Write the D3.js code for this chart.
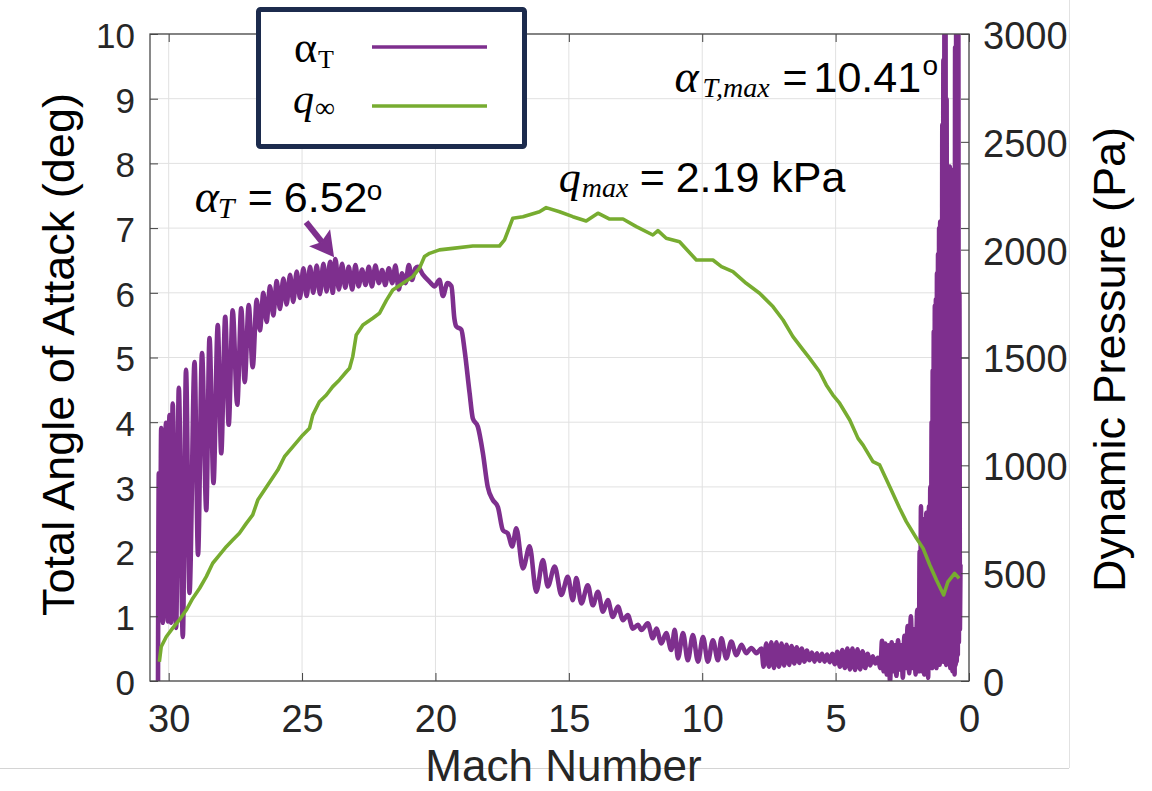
<!DOCTYPE html>
<html lang="en">
<head>
<meta charset="UTF-8">
<title>Total Angle of Attack and Dynamic Pressure vs Mach</title>
<script src="https://d3js.org/d3.v7.min.js"></script>
<style>
    body { margin: 0; background: #fff; }
    svg { display: block; }
    .tick text { fill: #262626; font-family: "Liberation Sans", Arial, Helvetica, sans-serif; }
    .tick line { stroke: #404040; }
    .domain { display: none; }
    .serif { font-family: "Liberation Serif", "Times New Roman", serif; }
    .sans { font-family: "Liberation Sans", Arial, Helvetica, sans-serif; }
</style>
</head>
<body>
<div id="chart"></div>
<script>
// Total angle of attack (deg) vs Mach
const machA = [
    30.40, 30.37, 30.33, 30.28, 30.22, 30.10, 30.03, 29.97, 29.91, 29.85,
    29.72, 29.62, 29.47, 29.35, 29.22, 29.03, 28.90, 28.75, 28.59, 28.47,
    28.32, 28.16, 28.03, 27.88, 27.75, 27.60, 27.43, 27.28, 27.15, 27.00,
    26.85, 26.70, 26.58, 26.45, 26.33, 26.20, 26.08, 25.95, 25.83, 25.70,
    25.58, 25.45, 25.33, 25.20, 25.08, 24.95, 24.83, 24.70, 24.58, 24.45,
    24.33, 24.20, 24.08, 23.95, 23.85, 23.75, 23.62, 23.50, 23.38, 23.25,
    23.12, 23.00, 22.88, 22.75, 22.62, 22.50, 22.38, 22.25, 22.12, 22.00,
    21.88, 21.75, 21.62, 21.50, 21.38, 21.25, 21.12, 21.00, 20.88, 20.75,
    20.66, 20.47, 20.22, 20.03, 19.85, 19.72, 19.55, 19.40, 19.29, 19.22,
    19.03, 18.91, 18.72, 18.60, 18.41, 18.22, 18.04, 17.85, 17.66, 17.47,
    17.29, 17.12, 16.97, 16.72, 16.47, 16.22, 15.97, 15.79, 15.53, 15.28,
    15.04, 14.85, 14.72, 14.53, 14.29, 14.10, 13.91, 13.72, 13.54, 13.35,
    13.16, 12.97, 12.79, 12.60, 12.41, 12.28, 12.04, 11.85, 11.72, 11.53,
    11.35, 11.16, 11.03, 10.91, 10.72, 10.54, 10.35, 10.16, 9.97, 9.79,
    9.60, 9.41, 9.28, 9.10, 8.91, 8.72, 8.53, 8.35, 8.16, 7.97,
    7.78, 7.70, 7.60, 7.50, 7.41, 7.31, 7.22, 7.12, 7.03, 6.93,
    6.84, 6.74, 6.65, 6.55, 6.46, 6.36, 6.27, 6.17, 6.08, 5.98,
    5.89, 5.79, 5.70, 5.60, 5.51, 5.41, 5.32, 5.22, 5.13, 5.03,
    4.94, 4.84, 4.75, 4.65, 4.56, 4.46, 4.37, 4.27, 4.18, 4.08,
    3.99, 3.89, 3.80, 3.70, 3.61, 3.51, 3.42, 3.32, 3.26, 3.20,
    3.14, 3.08, 3.02, 2.96, 2.90, 2.84, 2.78, 2.72, 2.66, 2.60,
    2.54, 2.48, 2.42, 2.36, 2.30, 2.24, 2.18, 2.12, 2.06, 2.00,
    1.94, 1.88, 1.85, 1.83, 1.80, 1.78, 1.75, 1.73, 1.70, 1.68,
    1.65, 1.63, 1.60, 1.58, 1.55, 1.53, 1.50, 1.48, 1.45, 1.43,
    1.40, 1.38, 1.36, 1.34, 1.32, 1.30, 1.28, 1.26, 1.24, 1.22,
    1.20, 1.18, 1.16, 1.14, 1.12, 1.10, 1.08, 1.06, 1.04, 1.02,
    1.00, 0.98, 0.96, 0.94, 0.92, 0.90, 0.88, 0.86, 0.84, 0.82,
    0.80, 0.78, 0.76, 0.74, 0.72, 0.70, 0.68, 0.66, 0.64, 0.62,
    0.60, 0.58, 0.56, 0.54, 0.52, 0.50, 0.48, 0.46, 0.44, 0.42,
    0.40, 0.38, 0.36, 0.34, 0.32
];
const alphaT = [
    0.00, 3.21, 0.95, 3.91, 0.90, 3.99, 0.92, 4.11, 0.90, 4.29,
    0.82, 4.53, 0.68, 4.81, 1.36, 4.93, 1.95, 5.07, 2.64, 5.30,
    3.06, 5.50, 3.52, 5.63, 3.96, 5.73, 4.27, 5.76, 4.62, 5.81,
    4.85, 5.89, 5.42, 6.00, 5.55, 6.10, 5.65, 6.18, 5.75, 6.22,
    5.82, 6.28, 5.86, 6.33, 5.92, 6.38, 5.95, 6.40, 6.00, 6.42,
    5.98, 6.45, 6.02, 6.48, 6.00, 6.52, 6.05, 6.45, 6.08, 6.40,
    6.05, 6.43, 6.10, 6.36, 6.12, 6.40, 6.10, 6.42, 6.15, 6.35,
    6.12, 6.38, 6.15, 6.42, 6.05, 6.30, 6.15, 6.43, 6.20, 6.38,
    6.40, 6.28, 6.17, 6.10, 6.20, 5.95, 6.15, 6.10, 5.60, 5.48,
    5.43, 5.12, 4.45, 4.06, 3.93, 3.52, 3.00, 2.80, 2.69, 2.33,
    2.28, 2.08, 2.36, 1.74, 2.08, 1.38, 1.87, 1.46, 1.77, 1.33,
    1.61, 1.25, 1.59, 1.20, 1.48, 1.17, 1.38, 1.07, 1.25, 0.99,
    1.15, 0.94, 1.02, 0.81, 0.87, 0.79, 0.89, 0.66, 0.81, 0.58,
    0.74, 0.48, 0.79, 0.35, 0.74, 0.32, 0.71, 0.30, 0.68, 0.30,
    0.63, 0.32, 0.66, 0.35, 0.61, 0.40, 0.56, 0.43, 0.51, 0.43,
    0.50, 0.22, 0.58, 0.22, 0.60, 0.20, 0.60, 0.22, 0.58, 0.24,
    0.56, 0.25, 0.54, 0.27, 0.52, 0.28, 0.50, 0.30, 0.47, 0.32,
    0.44, 0.30, 0.43, 0.31, 0.42, 0.30, 0.41, 0.29, 0.42, 0.26,
    0.45, 0.22, 0.48, 0.20, 0.50, 0.18, 0.50, 0.17, 0.49, 0.18,
    0.46, 0.20, 0.42, 0.24, 0.38, 0.27, 0.36, 0.20, 0.62, 0.15,
    0.58, 0.10, 0.55, 0.00, 0.60, 0.15, 0.55, 0.08, 0.63, 0.18,
    0.55, 0.05, 0.70, 0.20, 0.85, 0.12, 1.00, 0.20, 0.80, 0.10,
    1.10, 0.15, 2.00, 0.20, 2.70, 0.15, 2.20, 0.25, 2.50, 0.10,
    2.40, 0.30, 2.60, 0.20, 2.30, 0.05, 2.70, 0.30, 3.00, 0.25,
    4.00, 0.20, 4.80, 0.30, 5.40, 0.25, 5.80, 0.30, 5.90, 0.20,
    6.30, 0.35, 6.60, 0.30, 7.00, 0.25, 7.10, 0.30, 7.00, 0.40,
    8.60, 0.30, 9.60, 0.50, 10.41, 2.50, 10.20, 0.25, 9.00, 0.40,
    7.90, 0.30, 7.90, 0.35, 7.95, 0.20, 7.60, 0.30, 7.90, 0.15,
    7.50, 0.20, 7.00, 0.10, 9.80, 0.25, 10.40, 0.30, 10.30, 0.40,
    10.20, 0.60, 6.00, 0.80, 1.80
];

// Dynamic pressure (Pa) vs Mach
const machQ = [
    30.35, 30.28, 30.09, 29.85, 29.60, 29.34, 29.10, 28.84, 28.59, 28.35,
    28.10, 27.84, 27.60, 27.35, 27.09, 26.85, 26.66, 26.41, 26.16, 25.91,
    25.66, 25.35, 24.97, 24.72, 24.60, 24.35, 24.09, 23.85, 23.60, 23.34,
    23.22, 23.10, 22.97, 22.72, 22.35, 22.10, 21.84, 21.60, 21.22, 20.85,
    20.60, 20.41, 20.22, 19.85, 19.35, 18.60, 17.60, 17.41, 17.22, 17.10,
    16.72, 16.10, 15.85, 15.35, 14.85, 14.35, 13.91, 13.47, 12.97, 12.47,
    11.85, 11.66, 11.35, 10.85, 10.22, 9.60, 9.28, 8.85, 8.35, 7.85,
    7.35, 6.97, 6.60, 6.22, 5.97, 5.60, 5.35, 5.10, 4.85, 4.47,
    4.16, 3.97, 3.60, 3.35, 2.97, 2.60, 2.35, 1.97, 1.72, 1.47,
    1.22, 0.95, 0.79, 0.54, 0.37
];
const qInf = [
    89, 159, 205, 245, 283, 329, 383, 430, 484, 546,
    584, 623, 654, 685, 731, 770, 839, 886, 932, 978,
    1040, 1086, 1141, 1172, 1233, 1295, 1326, 1365, 1396, 1434,
    1450, 1504, 1604, 1651, 1682, 1705, 1765, 1813, 1844, 1875,
    1914, 1968, 1983, 1999, 2006, 2017, 2017, 2045, 2107, 2146,
    2153, 2176, 2195, 2176, 2153, 2133, 2169, 2142, 2142, 2107,
    2068, 2088, 2053, 2037, 1952, 1952, 1921, 1898, 1844, 1798,
    1736, 1674, 1597, 1535, 1496, 1434, 1373, 1326, 1288, 1210,
    1125, 1094, 1017, 1002, 901, 801, 739, 662, 615, 538,
    468, 399, 460, 499, 476
];

const xTicks = [30, 25, 20, 15, 10, 5, 0];
const yLeftTicks = [0, 1, 2, 3, 4, 5, 6, 7, 8, 9, 10];
const yRightTicks = [0, 500, 1000, 1500, 2000, 2500, 3000];

const purple = '#7e2f8e';
const green = '#77ac30';

const width = 1152;
const height = 791;
const margin = { left: 150, right: 183, top: 34, bottom: 110 };
const plotW = width - margin.left - margin.right;
const plotH = height - margin.top - margin.bottom;

const x = d3.scaleLinear().domain([30.7, 0]).range([margin.left, margin.left + plotW]);
const yL = d3.scaleLinear().domain([0, 10]).range([margin.top + plotH, margin.top]);
const yR = d3.scaleLinear().domain([0, 3000]).range([margin.top + plotH, margin.top]);

const svg = d3.select('#chart').append('svg')
    .attr('width', width)
    .attr('height', height);

// faint frame lines left over from the figure export
svg.append('line')
    .attr('x1', 0).attr('x2', 1069).attr('y1', 768.5).attr('y2', 768.5)
    .attr('stroke', '#d4d4d4').attr('stroke-width', 1);
svg.append('line')
    .attr('x1', 1069.5).attr('x2', 1069.5).attr('y1', 0).attr('y2', 768)
    .attr('stroke', '#e2e2e2').attr('stroke-width', 1);

svg.append('defs').append('clipPath').attr('id', 'plot-clip')
    .append('rect')
    .attr('x', margin.left).attr('y', margin.top)
    .attr('width', plotW).attr('height', plotH);

// Grid
const grid = svg.append('g').attr('stroke', '#e1e1e1').attr('stroke-width', 1);
grid.selectAll('.gx').data(xTicks).join('line')
    .attr('x1', d => x(d)).attr('x2', d => x(d))
    .attr('y1', margin.top).attr('y2', margin.top + plotH);
grid.selectAll('.gy').data(yLeftTicks).join('line')
    .attr('x1', margin.left).attr('x2', margin.left + plotW)
    .attr('y1', d => yL(d)).attr('y2', d => yL(d));

// Series
const plot = svg.append('g').attr('clip-path', 'url(#plot-clip)');

const alphaLine = d3.line()
    .x((d, i) => x(machA[i]))
    .y(d => yL(d))
    .curve(d3.curveMonotoneX);
plot.append('path')
    .attr('d', alphaLine(alphaT))
    .attr('fill', 'none')
    .attr('stroke', purple)
    .attr('stroke-width', 4.6)
    .attr('stroke-linejoin', 'round');

const qLine = d3.line()
    .x((d, i) => x(machQ[i]))
    .y(d => yR(d));
plot.append('path')
    .attr('d', qLine(qInf))
    .attr('fill', 'none')
    .attr('stroke', green)
    .attr('stroke-width', 3.6)
    .attr('stroke-linejoin', 'round');

// Axes (ticks point inward, like the original)
svg.append('g')
    .attr('transform', `translate(0,${margin.top + plotH})`)
    .call(d3.axisBottom(x).tickValues(xTicks).tickSizeInner(-8).tickSizeOuter(0).tickPadding(24))
    .call(g => g.selectAll('text').attr('font-size', 38));
svg.append('g')
    .attr('transform', `translate(0,${margin.top})`)
    .call(d3.axisTop(x).tickValues(xTicks).tickSizeInner(-8).tickSizeOuter(0).tickFormat(''));
svg.append('g')
    .attr('transform', `translate(${margin.left},0)`)
    .call(d3.axisLeft(yL).tickValues(yLeftTicks).tickSizeInner(-8).tickSizeOuter(0).tickPadding(15))
    .call(g => g.selectAll('text').attr('font-size', 35).attr('dy', '0.38em'));
svg.append('g')
    .attr('transform', `translate(${margin.left + plotW},0)`)
    .call(d3.axisRight(yL).tickValues(yLeftTicks).tickSizeInner(-8).tickSizeOuter(0).tickFormat(''));
svg.append('g')
    .attr('transform', `translate(${margin.left + plotW},0)`)
    .call(d3.axisRight(yR).tickValues(yRightTicks).tickFormat(d3.format('d'))
        .tickSizeInner(-8).tickSizeOuter(0).tickPadding(14))
    .call(g => g.selectAll('text').attr('font-size', 38).attr('dy', '0.38em'));

svg.append('rect')
    .attr('x', margin.left).attr('y', margin.top)
    .attr('width', plotW).attr('height', plotH)
    .attr('fill', 'none')
    .attr('stroke', '#4a4a4a')
    .attr('stroke-width', 1.3);

// Axis titles
svg.append('text')
    .attr('class', 'sans')
    .attr('x', x(15.2)).attr('y', 781)
    .attr('text-anchor', 'middle')
    .attr('font-size', 44)
    .attr('fill', '#262626')
    .text('Mach Number');
svg.append('text')
    .attr('class', 'sans')
    .attr('transform', `translate(74,${yL(5.0) - 3}) rotate(-90)`)
    .attr('text-anchor', 'middle')
    .attr('font-size', 45)
    .attr('fill', '#000')
    .text('Total Angle of Attack (deg)');
svg.append('text')
    .attr('class', 'sans')
    .attr('transform', `translate(1125,${yL(5.0) + 2}) rotate(-90)`)
    .attr('text-anchor', 'middle')
    .attr('font-size', 45)
    .attr('fill', '#000')
    .text('Dynamic Pressure (Pa)');

// Annotations
function label(mach, alpha, parts) {
    const g = svg.append('g')
        .attr('transform', `translate(${x(mach)},${yL(alpha)})`);
    for (const p of parts) {
        g.append('text')
            .attr('class', p.serif ? 'serif' : 'sans')
            .attr('x', p.dx).attr('y', p.dy || 0)
            .attr('font-size', p.size)
            .attr('font-style', p.italic ? 'italic' : 'normal')
            .attr('fill', '#000')
            .text(p.t);
    }
}

label(29.02, 7.25, [
    { t: 'α', dx: 0, size: 46, serif: true, italic: true },
    { t: 'T', dx: 23, dy: 6, size: 30, serif: true, italic: true },
    { t: '=', dx: 53, size: 43 },
    { t: '6.52', dx: 89, size: 43 },
    { t: 'o', dx: 172, dy: -12, size: 28 }
]);
label(11.04, 9.10, [
    { t: 'α', dx: 0, size: 46, serif: true, italic: true },
    { t: 'T,max', dx: 28, dy: 5, size: 28, serif: true, italic: true },
    { t: '=', dx: 108, size: 43 },
    { t: '10.41', dx: 139, size: 43 },
    { t: 'o', dx: 248, dy: -17, size: 28 }
]);
label(15.38, 7.56, [
    { t: 'q', dx: 0, size: 44, serif: true, italic: true },
    { t: 'max', dx: 23, dy: 5, size: 28, serif: true, italic: true },
    { t: '=', dx: 81, size: 43 },
    { t: '2.19 kPa', dx: 117, size: 43 }
]);

// Arrow pointing at the 6.52 deg peak
const tipX = x(23.8), tipY = yL(6.55);
svg.append('line')
    .attr('x1', tipX - 28).attr('y1', tipY - 35)
    .attr('x2', tipX - 12).attr('y2', tipY - 15)
    .attr('stroke', purple).attr('stroke-width', 6);
svg.append('path')
    .attr('d', `M${tipX},${tipY} L${tipX - 25},${tipY - 11} L${tipX - 13},${tipY - 15} L${tipX - 4},${tipY - 28} Z`)
    .attr('fill', purple);

// Legend
const legend = svg.append('g');
legend.append('rect')
    .attr('x', 258.5).attr('y', 9.5)
    .attr('width', 266).attr('height', 137)
    .attr('rx', 2)
    .attr('fill', '#fff')
    .attr('stroke', '#1c2b4d')
    .attr('stroke-width', 5);
legend.append('line')
    .attr('x1', 372).attr('x2', 487).attr('y1', 47).attr('y2', 47)
    .attr('stroke', purple).attr('stroke-width', 3.5);
legend.append('line')
    .attr('x1', 372).attr('x2', 487).attr('y1', 106).attr('y2', 106)
    .attr('stroke', green).attr('stroke-width', 3.5);
legend.append('text').attr('class', 'serif')
    .attr('x', 294).attr('y', 62).attr('font-size', 44).text('α');
legend.append('text').attr('class', 'serif')
    .attr('x', 318).attr('y', 68).attr('font-size', 26).text('T');
legend.append('text').attr('class', 'serif')
    .attr('x', 293).attr('y', 113).attr('font-size', 42).attr('font-style', 'italic').text('q');
legend.append('text').attr('class', 'serif')
    .attr('x', 315).attr('y', 117).attr('font-size', 28).text('∞');
</script>
</body>
</html>
